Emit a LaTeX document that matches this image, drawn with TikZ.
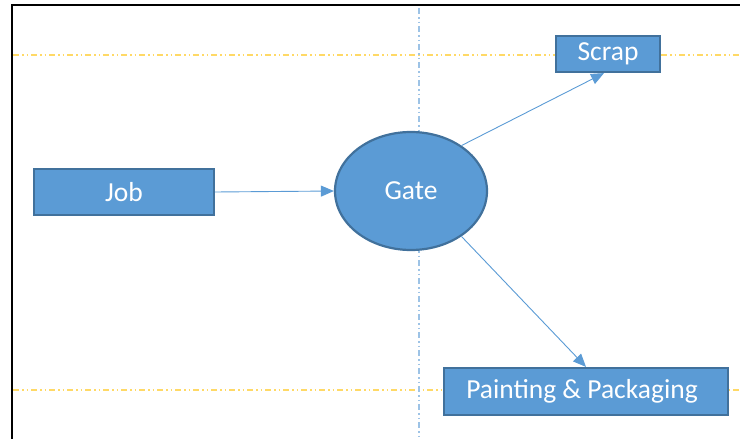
\documentclass[tikz,border=0pt]{standalone}
\usepackage{fontspec}
\setmainfont{Carlito}
\usetikzlibrary{arrows.meta,shapes.geometric}
\definecolor{boxfill}{HTML}{5B9BD5}
\definecolor{boxedge}{HTML}{41719C}
\definecolor{guidegold}{HTML}{FFD966}
\definecolor{guideblue}{HTML}{9DC3E6}
\tikzset{
  procbox/.style={draw=boxedge, line width=2.2pt, fill=boxfill, text=white,
    font=\fontsize{27.5}{30}\selectfont, inner sep=0pt},
  gateshape/.style={ellipse, draw=boxedge, line width=2.2pt, fill=boxfill, text=white,
    font=\fontsize{27.5}{30}\selectfont, inner sep=0pt},
  flow/.style={draw=boxfill, line width=0.9pt,
    -{Triangle[length=13pt, width=11pt]}},
  guide/.style={line width=1.6pt, dash pattern=on 6pt off 3pt on 1.5pt off 3pt on 1.5pt off 3pt},
  frame/.style={line width=2.5pt, black}
}
\begin{document}
\begin{tikzpicture}[x=1pt, y=-1pt]
  \useasboundingbox (0,0) rectangle (740,439);
  % page frame
  \draw[frame] (12,439) -- (12,5) -- (740,5);
  % alignment guides
  \draw[guide, guidegold] (13,55) -- (740,55);
  \draw[guide, guidegold] (13,390) -- (740,390);
  \draw[guide, guideblue] (419,8) -- (419,439);
  % process shapes
  \node[procbox, minimum width=180pt, minimum height=46pt] (job) at (124,192) {\raisebox{-1.5pt}{Job}};
  \node[gateshape, minimum width=152pt, minimum height=118pt] (gate) at (411,191) {\raisebox{-2pt}{Gate}};
  \node[procbox, minimum width=104pt, minimum height=36pt] (scrap) at (608,54) {\raisebox{-1pt}{Scrap}};
  \node[procbox, minimum width=284pt, minimum height=47pt] (paint) at (586,391.5) {\hspace*{-8pt}\raisebox{-2pt}{Painting \& Packaging}};
  % flows
  \draw[flow] (job.east) -- (gate.west);
  \draw[flow] (gate.42) -- ([xshift=-4pt]scrap.south);
  \draw[flow] (gate.-42) -- (paint.north);
\end{tikzpicture}
\end{document}
